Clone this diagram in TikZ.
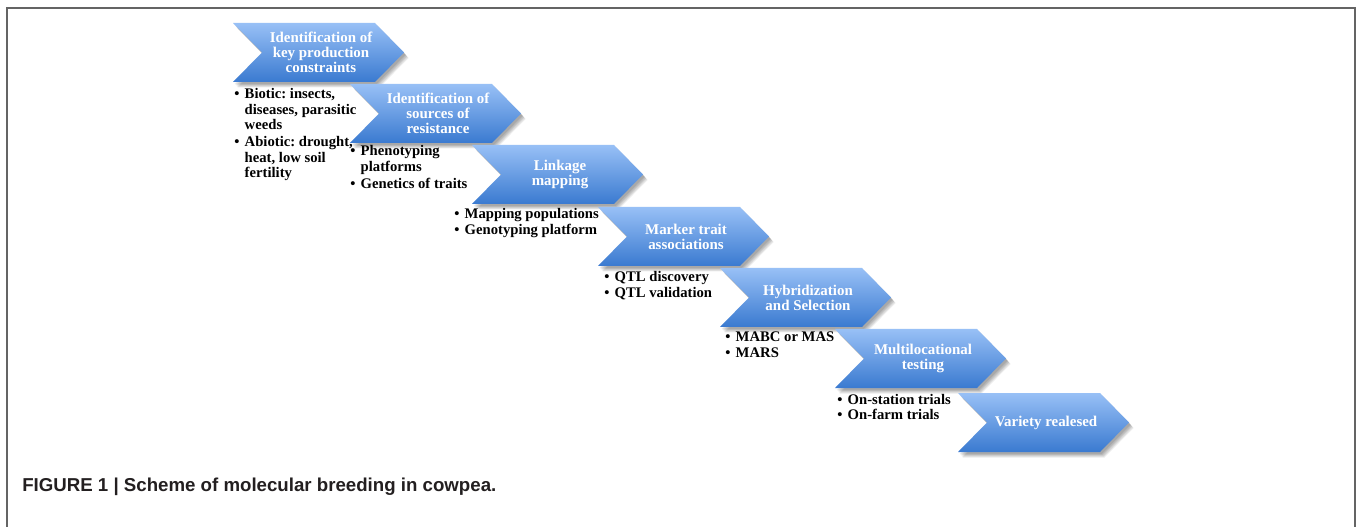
\documentclass[tikz,border=0pt]{standalone}
\usepackage{fontspec}
\setmainfont{Liberation Serif}
\newfontfamily\capfont{Liberation Sans}
\frenchspacing
\definecolor{chevtop}{RGB}{152,192,246}
\definecolor{chevbot}{RGB}{58,122,208}
\definecolor{framegray}{RGB}{100,100,100}
\definecolor{captext}{RGB}{35,31,32}
\tikzset{
  chevlabel/.style={text=white, align=center, font=\bfseries\fontsize{11.2}{11.4}\selectfont, inner sep=0pt},
  bullettext/.style={anchor=base west, inner sep=0pt, font=\bfseries\fontsize{11}{11.6}\selectfont, text=black},
  chevshadow/.style={fill=black, opacity=0.08},
}
\newcommand{\chevpath}[2]{(#1,#2) -- ++(142,0) -- ++(29,29.5) -- ++(-29,29.5) -- ++(-142,0) -- ++(29,-29.5) -- cycle}
\newcommand{\drawchev}[4]{%
  \foreach \s in {1,2,3,4,5} {\fill[chevshadow] \chevpath{#1+1+0.7*\s}{#2+1+0.9*\s};}
  \shade[top color=chevtop, bottom color=chevbot] \chevpath{#1}{#2};
  \node[chevlabel] (#3) at (#1+88,#2+29.5) {#4};
}
\newcommand{\blist}[1]{\begin{tabular}[t]{@{}l@{\hspace{4pt}}l@{}}#1\end{tabular}}
\begin{document}
\begin{tikzpicture}[x=0.75pt,y=-0.75pt]
\useasboundingbox (0,0) rectangle (1357,527);
\fill[white] (0,0) rectangle (1357,527);
\draw[framegray, line width=1pt] (7,527) -- (7,8) -- (1355,8) -- (1355,527);

\drawchev{233}{23}{c1}{Identification of\\key production\\constraints}
\drawchev{350}{84}{c2}{Identification of\\sources of\\resistance}
\drawchev{472}{145}{c3}{Linkage\\mapping}
\drawchev{598}{207}{c4}{Marker trait\\associations}
\drawchev{720}{268}{c5}{Hybridization\\and Selection}
\drawchev{835}{329}{c6}{Multilocational\\testing}
\drawchev{958}{393}{c7}{Variety realesed}

\node[bullettext] (b1) at (234,99) {\blist{
\textbullet & Biotic: insects,\\ & diseases, parasitic\\ & weeds\\[1pt]
\textbullet & Abiotic: drought,\\ & heat, low soil\\ & fertility}};
\node[bullettext] (b2) at (350,156) {\blist{
\textbullet & Phenotyping\\ & platforms\\[1pt]
\textbullet & Genetics of traits}};
\node[bullettext] (b3) at (454,219) {\blist{
\textbullet & Mapping populations\\
\textbullet & Genotyping platform}};
\node[bullettext] (b4) at (604,282) {\blist{
\textbullet & QTL discovery\\
\textbullet & QTL validation}};
\node[bullettext] (b5) at (725,342) {\blist{
\textbullet & MABC or MAS\\
\textbullet & MARS}};
\node[bullettext] (b6) at (837,404) {\blist{
\textbullet & On-station trials\\
\textbullet & On-farm trials}};

\node[anchor=base west, inner sep=0pt, text=captext, font=\capfont\bfseries\fontsize{14}{16}\selectfont] (cap) at (22,491) {FIGURE 1 | Scheme of molecular breeding in cowpea.};
\end{tikzpicture}
\end{document}
